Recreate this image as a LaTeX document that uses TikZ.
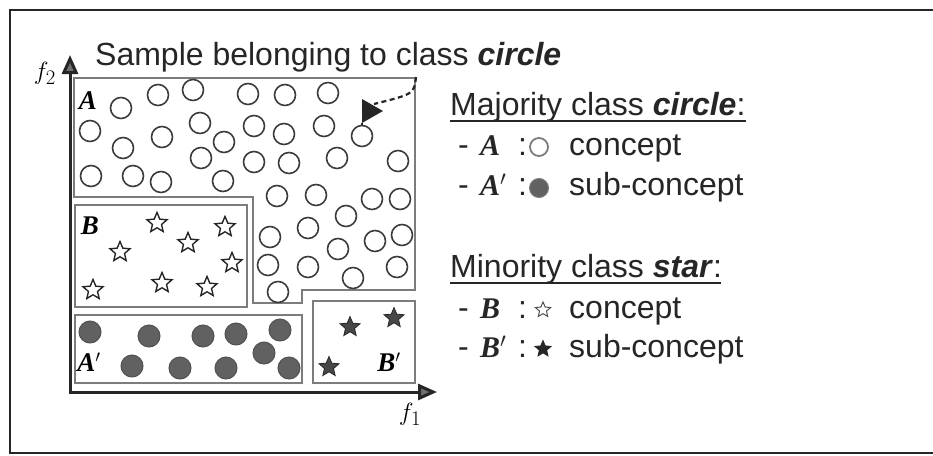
\documentclass[tikz,border=0pt]{standalone}
\usepackage{fontspec}
\setmainfont{Liberation Sans}
\newfontfamily\timesf{Liberation Serif}
\usetikzlibrary{shapes.geometric,arrows.meta}
\definecolor{ink}{HTML}{262626}
\definecolor{boxgray}{HTML}{7C7C7C}
\definecolor{dotgray}{HTML}{616161}
\definecolor{headgray}{HTML}{707070}
\begin{document}
\begin{tikzpicture}[x=1pt,y=-1pt,
  ocirc/.style={circle, draw=ink!90, line width=1.6, minimum size=21, inner sep=0},
  fcirc/.style={circle, draw=ink!80, fill=dotgray, line width=1, minimum size=22, inner sep=0},
  ostar/.style={star, star points=5, star point ratio=2.2, draw=ink, fill=white, line width=1.4, minimum size=21, inner sep=0},
  fstar/.style={star, star points=5, star point ratio=2.2, draw=ink, fill=ink!85, line width=0.8, minimum size=21, inner sep=0},
  region/.style={draw=boxgray, line width=1.6},
  lbl/.style={font=\timesf\bfseries\itshape\fontsize{27}{30}\selectfont, inner sep=0},
  leg/.style={font=\fontsize{32}{36}\selectfont, anchor=base west, inner sep=0, text=ink},
  legl/.style={font=\timesf\bfseries\itshape\fontsize{30}{34}\selectfont, anchor=base west, inner sep=0, text=ink},
  axis/.style={draw=ink, line width=3, -{Triangle[length=19pt,width=16pt,fill=headgray]}},
  frame/.style={draw=ink, line width=2.4}
]
\useasboundingbox (0,0) rectangle (933,455);
% outer frame (no right side)
\coordinate (f1) at (933,10);
\coordinate (f2) at (10,10);
\coordinate (f3) at (10,453);
\coordinate (f4) at (933,453);
\draw[frame] (f1) -- (f2) -- (f3) -- (f4);

% regions
\draw[region] (74,78) -- (415,78) -- (415,290) -- (302,290) -- (302,303) -- (253,303) -- (253,197) -- (74,197) -- cycle;
\node[region, rectangle, minimum width=172, minimum height=102, inner sep=0] (Bbox) at (161,256) {};
\node[region, rectangle, minimum width=227, minimum height=68, inner sep=0] (Apbox) at (188.5,349) {};
\node[region, rectangle, minimum width=102, minimum height=82, inner sep=0] (Bpbox) at (364,342) {};

% axes
\coordinate (origin) at (70,392);
\coordinate (ytip) at (70,55);
\coordinate (xtip) at (437,392);
\coordinate (xstart) at (68.5,392);
\draw[axis] (origin) -- (ytip);
\draw[axis] (xstart) -- (xtip);
\node (f2lbl) at (45,73) {\fontsize{32}{34}\selectfont$f_2$};
\node (f1lbl) at (410,414) {\fontsize{32}{34}\selectfont$f_1$};

% title
\node[leg, font=\fontsize{32}{36}\selectfont] (title) at (95,65) {Sample belonging to class \textbf{\textit{circle}}};

% open circles (concept A)
\foreach \x/\y [count=\i] in {121/108,158/95,193/90,248/94,285/95,328/93,
  90/131,123/148,162/137,200/123,224/142,254/126,284/134,324/126,
  201/158,254/162,289/163,337/158,398/161,
  91/176,133/176,161/182,223/181,
  277/196,316/195,372/199,400/199,346/216,308/228,270/237,402/235,375/241,338/249,
  268/265,308/267,397/267,353/278,278/292}
  \node[ocirc] (c\i) at (\x,\y) {};
\node[ocirc] (tgt) at (362,136) {};

% pointer to sample
\coordinate (corner) at (416,77);
\coordinate (tri1) at (362,99);
\coordinate (tri2) at (383,111);
\coordinate (tri3) at (362,123);
\coordinate (dend) at (374,104);
\draw[ink, line width=2.2, dash pattern=on 5pt off 3.5pt] (corner) .. controls (414,94) .. (dend);
\fill[ink] (tri1) -- (tri2) -- (tri3) -- cycle;
\draw[ink, line width=1.6] (tri3) -- (tgt.north);

% open stars (B)
\foreach \x/\y [count=\i] in {157/223,225/227,188/243,120/252,232/263,93/290,162/283,207/287}
  \node[ostar] (s\i) at (\x,\y) {};

% filled circles (A')
\foreach \x/\y [count=\i] in {90/332,149/336,203/336,236/334,280/330,264/353,132/366,180/368,226/368,289/368}
  \node[fcirc] (d\i) at (\x,\y) {};

% filled stars (B')
\foreach \x/\y [count=\i] in {350/327,394/318,329/367}
  \node[fstar] (t\i) at (\x,\y) {};

% region labels
\node[lbl] (labA) at (88,101) {A};
\node[lbl] (labB) at (90,226) {B};
\node[lbl] (labAp) at (89,362) {A$'$};
\node[lbl] (labBp) at (389,362) {B$'$};

% legend
\node[leg] (maj) at (450,115) {Majority class \textbf{\textit{circle}}:};
\draw[ink, line width=2] (450,121) -- (746,121);
\node[leg] (m1) at (458,155) {-};
\node[legl] (m1l) at (480,155) {A};
\node[leg] (m1c) at (518,155) {:};
\node[circle, draw=boxgray, line width=1.8, minimum size=18, inner sep=0] (m1s) at (539,147) {};
\node[leg] (m1t) at (569,155) {concept};
\node[leg] (m2) at (458,195) {-};
\node[legl] (m2l) at (480,195) {A$'$};
\node[leg] (m2c) at (518,195) {:};
\node[circle, draw=ink!60, fill=dotgray, line width=1, minimum size=19, inner sep=0] (m2s) at (539,188) {};
\node[leg] (m2t) at (569,195) {sub-concept};

\node[leg] (mino) at (450,277) {Minority class \textbf{\textit{star}}:};
\draw[ink, line width=2] (450,283) -- (721,283);
\node[leg] (n1) at (458,318) {-};
\node[legl] (n1l) at (480,318) {B};
\node[leg] (n1c) at (518,318) {:};
\node[star, star points=5, star point ratio=2.2, draw=ink!80, line width=1, minimum size=16, inner sep=0] (n1s) at (543,310) {};
\node[leg] (n1t) at (569,318) {concept};
\node[leg] (n2) at (458,357) {-};
\node[legl] (n2l) at (480,357) {B$'$};
\node[leg] (n2c) at (518,357) {:};
\node[star, star points=5, star point ratio=2.2, draw=ink, fill=ink, line width=0.8, minimum size=17, inner sep=0] (n2s) at (543,349) {};
\node[leg] (n2t) at (569,357) {sub-concept};
\end{tikzpicture}
\end{document}
